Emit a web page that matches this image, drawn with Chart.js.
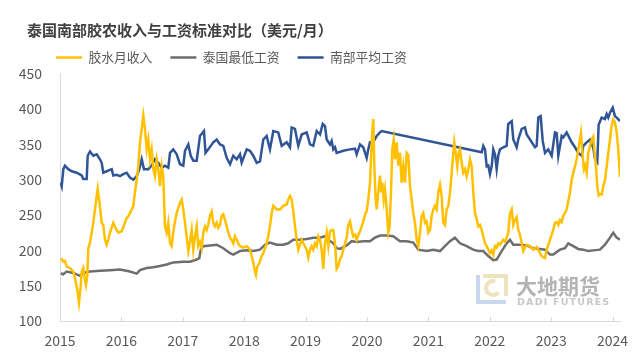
<!DOCTYPE html>
<html>
<head>
<meta charset="utf-8">
<script src="https://cdn.jsdelivr.net/npm/chart.js@4.4.1/dist/chart.umd.min.js"></script>
<style>
  html, body { margin: 0; padding: 0; background: #ffffff; }
  #wrap { position: relative; width: 643px; height: 359px; }
  #title { position: absolute; left: 27px; top: 19px; line-height: 22px; font-family: "Noto Sans CJK SC", sans-serif; font-weight: bold; font-size: 15px; color: #404040; white-space: nowrap; }
  canvas { position: absolute; left: 0; top: 0; }
</style>
</head>
<body>
<div id="wrap">
  <canvas id="c" width="643" height="359"></canvas>
  <div id="title">泰国南部胶农收入与工资标准对比（美元/月）</div>
</div>
<script>
// ---------- data (USD / month) ----------
const seriesNames = ['胶水月收入', '泰国最低工资', '南部平均工资'];
const xTickYears = [2015, 2016, 2017, 2018, 2019, 2020, 2021, 2022, 2023, 2024];
const yTickValues = [100, 150, 200, 250, 300, 350, 400, 450];

const incomeYears = [2015.016,2015.054,2015.081,2015.109,2015.163,2015.217,2015.244,2015.282,2015.309,2015.337,2015.353,2015.379,2015.407,2015.423,2015.445,2015.461,2015.489,2015.516,2015.542,2015.570,2015.598,2015.614,2015.651,2015.679,2015.705,2015.733,2015.761,2015.787,2015.814,2015.868,2015.896,2015.950,2016.005,2016.059,2016.086,2016.112,2016.168,2016.194,2016.221,2016.249,2016.275,2016.303,2016.331,2016.357,2016.384,2016.412,2016.438,2016.466,2016.493,2016.520,2016.547,2016.575,2016.601,2016.629,2016.656,2016.682,2016.710,2016.738,2016.764,2016.792,2016.819,2016.845,2016.873,2016.901,2016.954,2016.982,2017.008,2017.036,2017.063,2017.090,2017.117,2017.145,2017.171,2017.199,2017.226,2017.252,2017.280,2017.308,2017.334,2017.362,2017.389,2017.415,2017.443,2017.471,2017.497,2017.524,2017.552,2017.578,2017.606,2017.634,2017.660,2017.687,2017.715,2017.741,2017.769,2017.796,2017.822,2017.850,2017.878,2017.904,2017.932,2017.985,2018.041,2018.094,2018.122,2018.148,2018.176,2018.192,2018.213,2018.246,2018.285,2018.311,2018.339,2018.366,2018.392,2018.420,2018.448,2018.474,2018.529,2018.583,2018.637,2018.692,2018.718,2018.746,2018.774,2018.800,2018.827,2018.855,2018.881,2018.909,2018.936,2018.963,2019.018,2019.044,2019.072,2019.099,2019.125,2019.153,2019.181,2019.207,2019.235,2019.262,2019.288,2019.316,2019.344,2019.370,2019.397,2019.425,2019.451,2019.479,2019.506,2019.533,2019.560,2019.588,2019.614,2019.642,2019.669,2019.695,2019.723,2019.751,2019.777,2019.805,2019.832,2019.858,2019.886,2019.914,2019.940,2019.967,2019.995,2020.021,2020.049,2020.065,2020.086,2020.103,2020.119,2020.142,2020.158,2020.184,2020.212,2020.233,2020.249,2020.272,2020.293,2020.321,2020.347,2020.366,2020.391,2020.412,2020.435,2020.456,2020.484,2020.510,2020.537,2020.565,2020.591,2020.619,2020.647,2020.673,2020.700,2020.728,2020.754,2020.782,2020.810,2020.836,2020.863,2020.891,2020.917,2020.945,2020.972,2020.998,2021.026,2021.054,2021.080,2021.107,2021.135,2021.161,2021.189,2021.216,2021.243,2021.270,2021.298,2021.324,2021.352,2021.380,2021.406,2021.422,2021.445,2021.471,2021.494,2021.515,2021.542,2021.568,2021.596,2021.624,2021.650,2021.678,2021.705,2021.731,2021.759,2021.787,2021.813,2021.840,2021.868,2021.894,2021.922,2021.950,2021.976,2022.003,2022.031,2022.057,2022.085,2022.112,2022.138,2022.166,2022.194,2022.220,2022.248,2022.275,2022.301,2022.329,2022.357,2022.383,2022.410,2022.438,2022.464,2022.492,2022.520,2022.546,2022.573,2022.601,2022.655,2022.708,2022.764,2022.818,2022.845,2022.871,2022.899,2022.927,2022.980,2023.008,2023.034,2023.062,2023.090,2023.116,2023.143,2023.171,2023.197,2023.225,2023.252,2023.279,2023.306,2023.334,2023.360,2023.388,2023.415,2023.441,2023.469,2023.485,2023.513,2023.534,2023.555,2023.578,2023.604,2023.632,2023.660,2023.686,2023.702,2023.730,2023.751,2023.773,2023.795,2023.822,2023.849,2023.876,2023.904,2023.930,2023.958,2023.985,2024.011,2024.039,2024.067,2024.093,2024.121];
const incomeValues = [189,184,185,177,175,170,161,144,126,149,170,175,158,151,165,203,211,225,239,258,277,287,262,239,236,215,208,215,225,239,233,225,227,239,246,248,258,263,282,300,319,353,372,391,372,343,357,329,343,315,305,329,315,291,319,305,234,225,239,210,206,225,241,253,267,272,258,239,220,199,212,229,201,220,234,206,212,203,225,234,229,237,249,255,239,234,239,232,236,249,251,243,234,225,218,215,210,220,215,210,206,204,206,201,192,182,170,165,177,182,192,196,203,210,220,234,253,263,258,258,263,265,272,277,272,255,234,215,201,208,215,210,201,190,201,206,201,210,206,220,215,201,174,210,225,206,227,229,229,210,174,178,187,192,201,210,218,236,241,229,220,222,215,222,227,234,241,250,256,272,296,329,368,386,319,272,258,282,306,282,296,272,286,258,225,232,282,343,357,329,353,320,338,296,319,296,338,335,291,272,253,239,215,206,225,249,253,239,241,225,229,249,258,263,258,282,293,277,239,236,258,263,282,310,338,353,338,319,338,343,324,310,315,305,315,329,319,282,253,244,234,236,229,220,210,206,201,196,200,194,206,204,210,208,212,215,212,218,225,252,258,236,243,247,229,222,210,199,204,208,206,201,205,196,192,190,189,201,215,222,229,239,240,236,243,240,249,253,258,270,282,300,310,319,329,343,357,366,334,315,320,310,338,348,357,361,343,319,291,278,280,279,291,300,319,338,357,377,385,381,367,343,304];

const minWageYears = [2015.016,2015.049,2015.109,2015.217,2015.326,2015.379,2015.489,2015.651,2015.814,2015.977,2016.140,2016.249,2016.303,2016.412,2016.520,2016.629,2016.738,2016.845,2017.008,2017.117,2017.226,2017.269,2017.292,2017.334,2017.443,2017.552,2017.660,2017.769,2017.822,2017.932,2018.041,2018.148,2018.257,2018.339,2018.420,2018.529,2018.637,2018.718,2018.800,2018.909,2019.018,2019.125,2019.235,2019.316,2019.370,2019.451,2019.506,2019.560,2019.669,2019.751,2019.832,2019.940,2020.049,2020.130,2020.212,2020.321,2020.428,2020.537,2020.647,2020.754,2020.836,2020.972,2021.080,2021.189,2021.270,2021.352,2021.433,2021.515,2021.624,2021.731,2021.813,2021.894,2021.976,2022.057,2022.112,2022.194,2022.275,2022.329,2022.383,2022.492,2022.601,2022.708,2022.818,2022.899,2022.980,2023.034,2023.143,2023.225,2023.279,2023.360,2023.441,2023.523,2023.604,2023.686,2023.795,2023.876,2023.958,2024.011,2024.067,2024.121];
const minWageValues = [168,166,170,168,164,168,170,171,172,173,170,167,172,175,176,178,180,183,184,184,187,189,201,206,207,208,203,196,194,199,200,199,201,208,211,208,208,210,215,215,216,218,218,220,215,210,203,202,207,213,212,213,213,218,221,221,220,213,213,211,201,199,201,199,206,213,218,210,206,201,199,199,192,186,187,199,210,215,208,208,207,203,202,201,194,194,201,203,210,206,202,201,199,200,201,208,218,225,218,215];

const avgWageYears = [2015.011,2015.028,2015.054,2015.081,2015.135,2015.191,2015.272,2015.353,2015.379,2015.435,2015.451,2015.489,2015.542,2015.598,2015.651,2015.679,2015.705,2015.761,2015.842,2015.868,2015.923,2015.977,2016.031,2016.086,2016.140,2016.194,2016.249,2016.292,2016.331,2016.368,2016.438,2016.493,2016.547,2016.601,2016.656,2016.710,2016.764,2016.792,2016.845,2016.901,2016.954,2017.008,2017.036,2017.090,2017.129,2017.171,2017.226,2017.280,2017.345,2017.370,2017.415,2017.497,2017.552,2017.606,2017.660,2017.715,2017.769,2017.822,2017.878,2017.932,2017.959,2018.041,2018.094,2018.148,2018.204,2018.257,2018.311,2018.366,2018.420,2018.474,2018.555,2018.611,2018.692,2018.746,2018.774,2018.827,2018.881,2018.936,2019.018,2019.072,2019.125,2019.181,2019.235,2019.279,2019.316,2019.344,2019.397,2019.425,2019.451,2019.479,2019.506,2019.614,2019.723,2019.805,2019.832,2019.886,2019.940,2019.995,2020.021,2020.049,2020.103,2020.158,2020.212,2020.239,2021.868,2021.894,2021.922,2021.950,2021.976,2022.003,2022.031,2022.057,2022.085,2022.112,2022.138,2022.166,2022.220,2022.275,2022.301,2022.357,2022.383,2022.438,2022.464,2022.520,2022.573,2022.601,2022.655,2022.736,2022.764,2022.790,2022.829,2022.862,2022.899,2022.953,2023.008,2023.062,2023.090,2023.116,2023.171,2023.197,2023.252,2023.334,2023.388,2023.441,2023.497,2023.523,2023.578,2023.632,2023.686,2023.713,2023.751,2023.773,2023.822,2023.876,2023.904,2023.930,2023.958,2024.002,2024.039,2024.067,2024.121];
const avgWageValues = [296,291,315,320,315,312,310,306,301,301,334,340,334,336,329,324,310,312,315,306,307,305,308,310,303,300,305,315,329,315,315,320,329,324,317,320,317,338,343,336,322,320,341,350,334,327,327,362,369,338,343,353,357,350,348,331,322,334,329,336,324,343,341,334,324,326,357,362,343,369,367,348,353,346,374,372,348,364,367,350,348,369,364,379,376,357,350,355,343,346,338,341,343,344,336,350,346,331,343,353,353,362,367,369,339,348,343,319,320,308,319,343,336,315,334,343,346,348,379,383,357,346,357,372,374,364,357,346,348,388,390,355,338,343,334,367,366,334,362,360,367,353,346,338,334,348,353,357,345,330,325,378,388,386,393,388,395,402,390,388,383];

const seriesColors = ['#FFC000', '#6E6E6E', '#2F5597'];

function toPoints(xs, ys) { return xs.map((x, i) => ({ x: x, y: ys[i] })); }

// shift the legend row to line up under the title (as in the original)
const legendShift = {
  id: 'legendShift',
  afterLayout(chart) {
    if (chart.legend) { chart.legend.left += 20; chart.legend.right += 20; }
  }
};

// inside tick marks on the x axis
const insideTicks = {
  id: 'insideTicks',
  beforeDatasetsDraw(chart) {
    const xs = chart.scales.x, area = chart.chartArea, ctx = chart.ctx;
    ctx.save();
    ctx.strokeStyle = '#D9D9D9';
    ctx.lineWidth = 1;
    xTickYears.forEach(v => {
      const px = Math.round(xs.getPixelForValue(v)) + 0.5;
      ctx.beginPath();
      ctx.moveTo(px, area.bottom);
      ctx.lineTo(px, area.bottom - 4);
      ctx.stroke();
    });
    ctx.restore();
  }
};

// company watermark
const watermark = {
  id: 'watermark',
  beforeDatasetsDraw(chart) {
    const a = chart.chartArea, ctx = chart.ctx;
    const x0 = a.right - 144, y0 = a.bottom - 46;
    ctx.save();
    ctx.lineWidth = 4;
    ctx.strokeStyle = '#C9D8EC';
    ctx.beginPath();
    ctx.moveTo(x0 + 2, y0);
    ctx.lineTo(x0 + 2, y0 + 27);
    ctx.lineTo(x0 + 30, y0 + 27);
    ctx.stroke();
    ctx.strokeStyle = '#EFE3BD';
    ctx.beginPath();
    ctx.moveTo(x0 + 7, y0 + 1);
    ctx.lineTo(x0 + 30, y0 + 1);
    ctx.lineTo(x0 + 30, y0 + 21);
    ctx.stroke();
    ctx.beginPath();
    ctx.arc(x0 + 17, y0 + 13, 7, Math.PI * 0.2, Math.PI * 1.6);
    ctx.stroke();
    ctx.fillStyle = '#B4B4B4';
    ctx.font = 'bold 21px "Noto Sans CJK SC", sans-serif';
    ctx.textBaseline = 'middle';
    ctx.textAlign = 'left';
    ctx.fillText('大地期货', x0 + 40, y0 + 11);
    ctx.fillStyle = '#C8C8C8';
    ctx.font = 'bold 9.5px "DejaVu Sans", sans-serif';
    if ('letterSpacing' in ctx) ctx.letterSpacing = '1.2px';
    ctx.fillText('DADI FUTURES', x0 + 41, y0 + 28);
    ctx.restore();
  }
};

const datasets = [
  { label: seriesNames[0], data: toPoints(incomeYears, incomeValues), borderColor: seriesColors[0], backgroundColor: seriesColors[0] },
  { label: seriesNames[1], data: toPoints(minWageYears, minWageValues), borderColor: seriesColors[1], backgroundColor: seriesColors[1] },
  { label: seriesNames[2], data: toPoints(avgWageYears, avgWageValues), borderColor: seriesColors[2], backgroundColor: seriesColors[2] }
].map(d => Object.assign(d, { borderWidth: 2.5, pointRadius: 0, tension: 0, fill: false }));

new Chart(document.getElementById('c'), {
  type: 'line',
  data: { datasets: datasets },
  plugins: [legendShift, insideTicks, watermark],
  options: {
    responsive: false,
    animation: false,
    devicePixelRatio: 1,
    layout: { padding: { top: 33, left: 18, right: 23, bottom: 10 } },
    plugins: {
      title: { display: false },
      tooltip: { enabled: false },
      legend: {
        position: 'top',
        align: 'start',
        labels: {
          usePointStyle: true,
          pointStyle: 'line',
          pointStyleWidth: 26,
          padding: 18,
          color: '#595959',
          font: { family: '"Noto Sans CJK SC", sans-serif', size: 12.8 }
        }
      }
    },
    scales: {
      x: {
        type: 'linear',
        min: xTickYears[0],
        max: 2024.121,
        afterBuildTicks: (scale) => { scale.ticks = xTickYears.map(v => ({ value: v })); },
        afterFit: (scale) => { scale.height = 28; },
        ticks: {
          padding: 11,
          color: '#595959',
          font: { family: '"Noto Sans CJK SC", sans-serif', size: 14 },
          callback: (v) => String(v),
          maxRotation: 0,
          autoSkip: false
        },
        grid: { display: false, drawTicks: false, tickLength: 0 },
        border: { display: true, color: '#D9D9D9', width: 1 }
      },
      y: {
        min: yTickValues[0],
        max: yTickValues[yTickValues.length - 1],
        afterBuildTicks: (scale) => { scale.ticks = yTickValues.map(v => ({ value: v })); },
        afterFit: (scale) => { scale.width = 42; },
        ticks: {
          padding: 18,
          color: '#595959',
          autoSkip: false,
          font: { family: '"Noto Sans CJK SC", sans-serif', size: 14 }
        },
        grid: { display: false, drawTicks: false, tickLength: 0 },
        border: { display: true, color: '#D9D9D9', width: 1 }
      }
    }
  }
});
</script>
</body>
</html>
